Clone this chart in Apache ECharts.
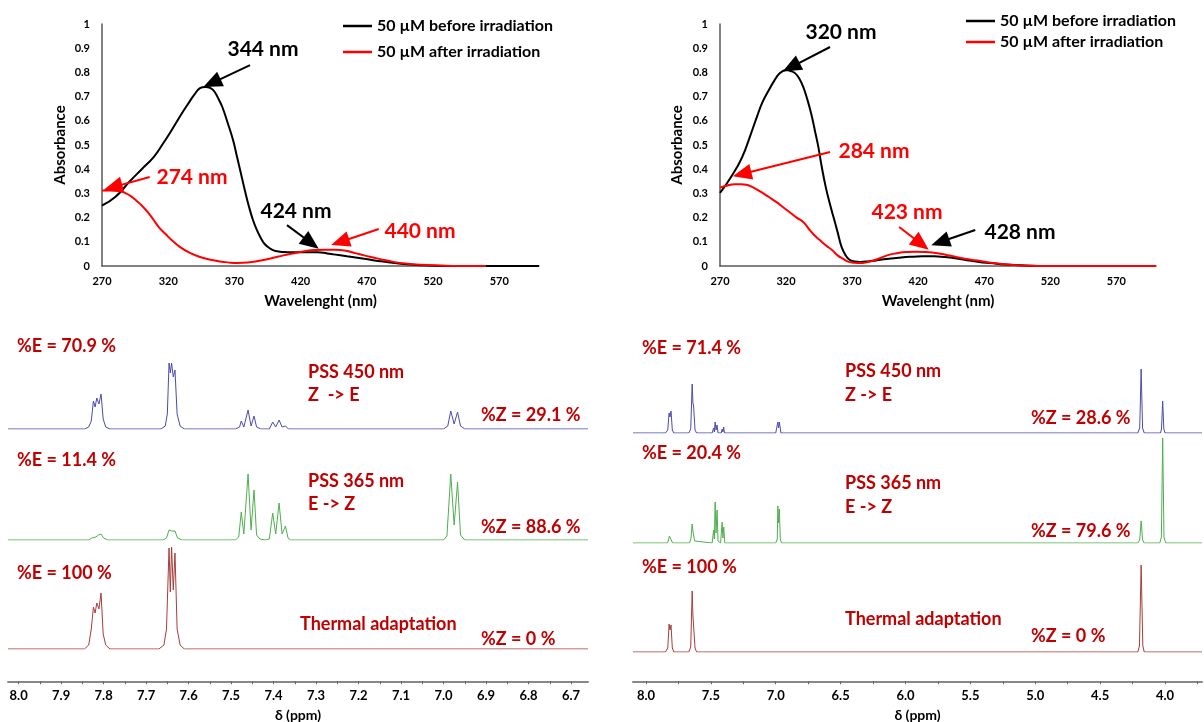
<!DOCTYPE html>
<html>
<head>
<meta charset="utf-8">
<script src="https://cdn.jsdelivr.net/npm/echarts@6/dist/echarts.min.js"></script>
<style>
  html, body { margin: 0; padding: 0; background: #fff; }
  #chart { width: 1204px; height: 722px; }
</style>
</head>
<body>
<div id="chart"></div>
<script>
// UV-Vis, left compound: [wavelength nm, absorbance]
var uvL_before = [[270,0.25],[280,0.285],[291,0.35],[300,0.40],[309,0.45],[316,0.505],[323,0.565],[330,0.628],[335,0.67],[340,0.71],[344,0.735],[348,0.74],[352,0.735],[355,0.72],[358,0.69],[361,0.655],[365,0.59],[369,0.52],[372,0.45],[375,0.38],[378,0.31],[381,0.245],[384,0.19],[387,0.148],[390,0.115],[393,0.09],[397,0.072],[401,0.062],[407,0.058],[415,0.057],[425,0.057],[433,0.057],[440,0.052],[445,0.048],[455,0.04],[468,0.03],[480,0.02],[491,0.012],[500,0.007],[511,0.003],[520,0.001],[540,0],[600,0]];
var uvL_after = [[270,0.312],[276,0.312],[283,0.31],[288,0.3],[292,0.288],[296,0.27],[300,0.25],[305,0.22],[309,0.19],[313,0.16],[318,0.132],[323,0.105],[329,0.078],[336,0.055],[344,0.037],[351,0.027],[358,0.02],[365,0.015],[372,0.012],[380,0.014],[390,0.023],[398,0.032],[407,0.044],[415,0.053],[424,0.062],[431,0.066],[439,0.067],[446,0.067],[453,0.064],[460,0.055],[468,0.044],[475,0.035],[482,0.026],[490,0.017],[499,0.01],[510,0.005],[525,0.002],[540,0],[560,0]];
// UV-Vis, right compound
var uvR_before = [[270,0.302],[275,0.34],[280,0.382],[285,0.43],[289,0.479],[293,0.54],[298,0.617],[302,0.675],[307,0.727],[311,0.765],[315,0.795],[320,0.81],[324,0.805],[327,0.796],[330,0.775],[333,0.74],[336,0.69],[339,0.63],[342,0.555],[344.5,0.49],[347,0.41],[350,0.327],[353,0.26],[356,0.2],[359,0.14],[362,0.079],[365,0.045],[368,0.026],[372,0.019],[376,0.017],[382,0.019],[388,0.023],[396,0.029],[405,0.034],[414,0.038],[423,0.04],[432,0.04],[440,0.037],[448,0.032],[457,0.024],[466,0.017],[475,0.012],[486,0.006],[498,0.003],[511,0]];
var uvR_after = [[270,0.324],[275,0.332],[281,0.338],[286,0.338],[290,0.336],[295,0.325],[301,0.306],[307,0.285],[312.5,0.265],[318,0.242],[324,0.217],[328,0.2],[333,0.182],[337,0.155],[341.5,0.127],[346,0.105],[350,0.086],[355,0.065],[359,0.044],[363,0.03],[367.6,0.017],[372,0.013],[376,0.012],[380,0.014],[385,0.021],[391,0.032],[396.5,0.044],[403,0.052],[411,0.058],[418,0.059],[425.5,0.058],[432,0.055],[437,0.051],[444,0.043],[451.5,0.034],[460,0.026],[469,0.019],[477,0.012],[486,0.007],[495,0.003],[503.6,0.001],[515,0],[600,0]];

// annotation arrows: [from, to] in [nm, abs]
var arrowsL = [
  {c:'#000', from:[381.8,0.83], to:[353,0.756]},
  {c:'#f00', from:[306,0.368], to:[278.3,0.326]},
  {c:'#000', from:[409.7,0.169], to:[427.9,0.095]},
  {c:'#f00', from:[479,0.153], to:[449.8,0.099]}
];
var arrowsR = [
  {c:'#000', from:[353.3,0.905], to:[323.8,0.822]},
  {c:'#f00', from:[353.3,0.471], to:[286.7,0.38]},
  {c:'#f00', from:[405.6,0.161], to:[422.3,0.091]},
  {c:'#000', from:[463.2,0.149], to:[436.7,0.099]}
];

// 1H NMR traces: [ppm, intensity]
var nmrL_450 = [[8.025,0],[7.845,0],[7.835,2],[7.829,8],[7.824,28],[7.820,22],[7.816,31],[7.811,25],[7.806,35],[7.801,10],[7.795,2],[7.785,0],[7.665,0],[7.655,3],[7.650,15],[7.646,66],[7.643,56],[7.640,66],[7.636,52],[7.632,59],[7.627,15],[7.620,3],[7.610,0],[7.49,0],[7.480,2],[7.476,8],[7.470,2],[7.460,19],[7.453,3],[7.446,13],[7.440,2],[7.430,0],[7.41,0],[7.402,7],[7.395,2],[7.387,9],[7.380,2],[7.372,3],[7.365,0],[7.00,0],[6.990,3],[6.983,18],[6.975,5],[6.967,17],[6.960,3],[6.950,0],[6.66,0]];
var nmrL_365 = [[8.025,0],[7.835,0],[7.828,2],[7.824,4],[7.818,3],[7.812,5],[7.806,6],[7.800,2],[7.79,0],[7.66,0],[7.652,2],[7.646,10],[7.643,8],[7.640,9],[7.636,7],[7.632,9],[7.626,2],[7.615,0],[7.49,0],[7.482,3],[7.476,28],[7.470,6],[7.460,66],[7.453,10],[7.446,50],[7.440,5],[7.432,1],[7.42,0],[7.41,1],[7.402,27],[7.395,6],[7.387,37],[7.380,6],[7.372,14],[7.366,2],[7.36,0],[7.00,0],[6.992,4],[6.983,66],[6.975,15],[6.967,58],[6.960,5],[6.950,0],[6.66,0]];
var nmrL_dark = [[8.025,0],[7.845,0],[7.835,4],[7.829,20],[7.824,42],[7.820,36],[7.816,46],[7.811,40],[7.806,56],[7.801,15],[7.795,4],[7.785,0],[7.67,0],[7.658,4],[7.652,20],[7.646,101],[7.643,57],[7.640,102],[7.636,59],[7.632,96],[7.627,20],[7.620,4],[7.61,0],[6.66,0]];
var nmrR_450 = [[8.10,0],[7.85,0],[7.832,3],[7.822,20],[7.815,16],[7.807,22],[7.797,3],[7.785,0],[7.67,0],[7.655,4],[7.644,49],[7.638,30],[7.633,27],[7.622,3],[7.61,0],[7.49,0],[7.479,5],[7.473,1],[7.467,11],[7.46,3],[7.452,8],[7.445,0],[7.42,0],[7.413,4],[7.407,1],[7.401,6],[7.395,0],[7.00,0],[6.984,11],[6.978,5],[6.972,11],[6.96,0],[4.21,0],[4.195,5],[4.184,64],[4.173,5],[4.16,0],[4.035,0],[4.027,4],[4.018,32],[4.009,4],[4.0,0],[3.715,0]];
var nmrR_365 = [[8.10,0],[7.835,0],[7.826,3],[7.82,7],[7.812,6],[7.805,3],[7.795,0],[7.665,0],[7.654,4],[7.644,19],[7.636,10],[7.625,2],[7.61,0],[7.49,0],[7.479,13],[7.473,4],[7.467,41],[7.46,10],[7.452,33],[7.445,2],[7.425,0],[7.413,21],[7.407,5],[7.401,16],[7.392,0],[7.00,0],[6.988,4],[6.984,37],[6.978,20],[6.972,34],[6.965,4],[6.955,0],[4.21,0],[4.195,3],[4.184,22],[4.173,3],[4.16,0],[4.04,0],[4.028,6],[4.018,105],[4.008,6],[3.995,0],[3.715,0]];
var nmrR_dark = [[8.10,0],[7.85,0],[7.832,4],[7.822,28],[7.815,22],[7.807,27],[7.797,4],[7.785,0],[7.67,0],[7.655,5],[7.644,61],[7.638,36],[7.633,34],[7.622,4],[7.61,0],[4.21,0],[4.197,6],[4.184,87],[4.171,6],[4.16,0],[3.715,0]];

// tick labels
var ticksL_major = [8.0,7.9,7.8,7.7,7.6,7.5,7.4,7.3,7.2,7.1,7.0,6.9,6.8,6.7];
var ticksL_minor = [7.95,7.85,7.75,7.65,7.55,7.45,7.35,7.25,7.15,7.05,6.95,6.85,6.75];
var ticksR_major = [8.0,7.5,7.0,6.5,6.0,5.5,5.0,4.5,4.0];
var ticksR_minor = [7.75,7.25,6.75,6.25,5.75,5.25,4.75,4.25,3.75];

var nameBefore = '50 µM before irradiation';
var nameAfter = '50 µM after irradiation';

var chart = echarts.init(document.getElementById('chart'));

function uvX(gi) {
    return {
        type: 'value', gridIndex: gi, min: 270, max: 600, interval: 50,
        name: 'Wavelenght (nm)', nameLocation: 'middle', nameGap: 28,
        nameTextStyle: {fontSize: 15, fontWeight: 'bold', color: '#000'},
        axisLine: {lineStyle: {color: '#595959', width: 1.5}},
        axisTick: {show: false}, splitLine: {show: false},
        axisLabel: {showMaxLabel: false, fontSize: 11, fontWeight: 'bold', color: '#000', margin: 10}
    };
}
function uvY(gi, gap) {
    return {
        type: 'value', gridIndex: gi, min: 0, max: 1, interval: 0.1,
        name: 'Absorbance', nameLocation: 'middle', nameGap: gap, nameRotate: 90,
        nameTextStyle: {fontSize: 15, fontWeight: 'bold', color: '#000'},
        axisLine: {show: true, lineStyle: {color: '#595959', width: 1.5}},
        axisTick: {show: false}, splitLine: {show: false},
        axisLabel: {fontSize: 11, fontWeight: 'bold', color: '#000', margin: 12}
    };
}
function hiddenX(gi, min, max) {
    return {type: 'value', gridIndex: gi, min: min, max: max, inverse: true, show: false};
}
function hiddenY(gi, max) {
    return {type: 'value', gridIndex: gi, min: 0, max: max, show: false};
}
function ppmX(gi, min, max, major) {
    return {
        type: 'value', gridIndex: gi, min: min, max: max, inverse: true, position: 'bottom',
        name: 'δ (ppm)', nameLocation: 'middle', nameGap: 27,
        nameTextStyle: {fontSize: 14, fontWeight: 'bold', color: '#000'},
        axisLine: {lineStyle: {color: '#888', width: 2}},
        axisTick: {customValues: major, length: 3, lineStyle: {color: '#666'}},
        splitLine: {show: false},
        axisLabel: {customValues: major, fontSize: 13, fontWeight: 'bold', color: '#000', margin: 8,
            formatter: function (v) { return v.toFixed(1); }}
    };
}
function ppmMinor(gi, min, max, minor) {
    return {
        type: 'value', gridIndex: gi, min: min, max: max, inverse: true, position: 'bottom',
        axisLine: {show: false},
        axisTick: {customValues: minor, length: 3, lineStyle: {color: '#666'}},
        splitLine: {show: false}, axisLabel: {show: false}
    };
}
function uvLine(name, data, color, xi, z) {
    return {
        name: name, type: 'line', xAxisIndex: xi, yAxisIndex: xi, data: data,
        symbol: 'none', smooth: 0.45, z: z,
        lineStyle: {color: color, width: 2}, itemStyle: {color: color}
    };
}
function arrowLine(list, xi) {
    return {
        type: 'line', xAxisIndex: xi, yAxisIndex: xi, data: [], silent: true,
        markLine: {
            silent: true, animation: false, symbol: ['none', 'triangle'], symbolSize: [16, 19],
            label: {show: false},
            data: list.map(function (a) {
                return [{coord: a.from, lineStyle: {color: a.c, width: 2, type: 'solid'}, itemStyle: {color: a.c}},
                        {coord: a.to}];
            })
        }
    };
}
function nmrLine(data, color, xi) {
    return {
        type: 'line', xAxisIndex: xi, yAxisIndex: xi, data: data, symbol: 'none',
        lineStyle: {color: color, width: 1}, silent: true
    };
}
function txt(x, y, s, color, size, align) {
    return {
        type: 'text', x: x, y: y, silent: true,
        style: {text: s, fill: color, font: 'bold ' + size + 'px Lato',
            align: align || 'center', verticalAlign: 'middle',
            textAlign: align || 'center', textVerticalAlign: 'middle'}
    };
}

var blue = '#4b4bab', green = '#4fae4f', brown = '#a63d3d', dred = '#c00000';
var minL = 6.66, maxL = 8.025, minR = 3.715, maxR = 8.10;
var legendText = {fontSize: 16, fontWeight: 'bold', color: '#000', lineHeight: 15};

var option = {
    animation: false,
    textStyle: {fontFamily: 'Lato'},
    legend: [
        {data: [nameBefore, nameAfter], orient: 'vertical', left: 338, top: 13, icon: 'rect',
         itemWidth: 29, itemHeight: 2.5, itemGap: 10, textStyle: legendText, selectedMode: false},
        {data: [nameBefore, nameAfter], orient: 'vertical', left: 961, top: 8, icon: 'rect',
         itemWidth: 29, itemHeight: 2.5, itemGap: 5, textStyle: legendText, selectedMode: false}
    ],
    grid: [
        {left: 102, top: 24, width: 437, height: 242},
        {left: 720, top: 24, width: 436, height: 242},
        {left: 8, width: 580, top: 319, height: 110},
        {left: 8, width: 580, top: 430, height: 110},
        {left: 8, width: 580, top: 539, height: 110},
        {left: 8, width: 580, top: 681, height: 1},
        {left: 633, width: 569, top: 323, height: 110},
        {left: 633, width: 569, top: 433, height: 110},
        {left: 633, width: 569, top: 542, height: 110},
        {left: 633, width: 569, top: 681, height: 1}
    ],
    xAxis: [
        uvX(0), uvX(1),
        hiddenX(2, minL, maxL), hiddenX(3, minL, maxL), hiddenX(4, minL, maxL),
        hiddenX(6, minR, maxR), hiddenX(7, minR, maxR), hiddenX(8, minR, maxR),
        ppmX(5, minL, maxL, ticksL_major), ppmMinor(5, minL, maxL, ticksL_minor),
        ppmX(9, minR, maxR, ticksR_major), ppmMinor(9, minR, maxR, ticksR_minor)
    ],
    yAxis: [
        uvY(0, 34), uvY(1, 35),
        hiddenY(2, 110), hiddenY(3, 110), hiddenY(4, 110),
        hiddenY(6, 110), hiddenY(7, 110), hiddenY(8, 110),
        hiddenY(5, 1), hiddenY(5, 1), hiddenY(9, 1), hiddenY(9, 1)
    ],
    series: [
        uvLine(nameBefore, uvL_before, '#000', 0, 2),
        uvLine(nameAfter, uvL_after, '#ff0000', 0, 3),
        uvLine(nameBefore, uvR_before, '#000', 1, 2),
        uvLine(nameAfter, uvR_after, '#ff0000', 1, 3),
        arrowLine(arrowsL, 0),
        arrowLine(arrowsR, 1),
        nmrLine(nmrL_450, blue, 2),
        nmrLine(nmrL_365, green, 3),
        nmrLine(nmrL_dark, brown, 4),
        nmrLine(nmrR_450, blue, 5),
        nmrLine(nmrR_365, green, 6),
        nmrLine(nmrR_dark, brown, 7)
    ],
    graphic: [
        txt(263, 49, '344 nm', '#000', 21),
        txt(192, 177, '274 nm', '#ff0000', 21),
        txt(296, 211, '424 nm', '#000', 21),
        txt(420, 231, '440 nm', '#ff0000', 21),
        txt(841, 32, '320 nm', '#000', 21),
        txt(874, 151, '284 nm', '#ff0000', 21),
        txt(907, 212, '423 nm', '#ff0000', 21),
        txt(1020, 232, '428 nm', '#000', 21),

        txt(17, 346, '%E = 70.9 %', dred, 18, 'left'),
        txt(308, 372, 'PSS 450 nm', dred, 18, 'left'),
        txt(308, 395, 'Z  -> E', dred, 18, 'left'),
        txt(481, 415, '%Z = 29.1 %', dred, 18, 'left'),
        txt(17, 460, '%E = 11.4 %', dred, 18, 'left'),
        txt(308, 481, 'PSS 365 nm', dred, 18, 'left'),
        txt(308, 504, 'E -> Z', dred, 18, 'left'),
        txt(481, 527, '%Z = 88.6 %', dred, 18, 'left'),
        txt(17, 573, '%E = 100 %', dred, 18, 'left'),
        txt(300, 624, 'Thermal adaptation', dred, 18, 'left'),
        txt(481, 639, '%Z = 0 %', dred, 18, 'left'),

        txt(642, 348, '%E = 71.4 %', dred, 18, 'left'),
        txt(845, 371, 'PSS 450 nm', dred, 18, 'left'),
        txt(845, 395, 'Z -> E', dred, 18, 'left'),
        txt(1031, 418, '%Z = 28.6 %', dred, 18, 'left'),
        txt(642, 453, '%E = 20.4 %', dred, 18, 'left'),
        txt(845, 483, 'PSS 365 nm', dred, 18, 'left'),
        txt(845, 507, 'E -> Z', dred, 18, 'left'),
        txt(1031, 531, '%Z = 79.6 %', dred, 18, 'left'),
        txt(642, 567, '%E = 100 %', dred, 18, 'left'),
        txt(845, 619, 'Thermal adaptation', dred, 18, 'left'),
        txt(1031, 636, '%Z = 0 %', dred, 18, 'left')
    ]
};

chart.setOption(option);
</script>
</body>
</html>
